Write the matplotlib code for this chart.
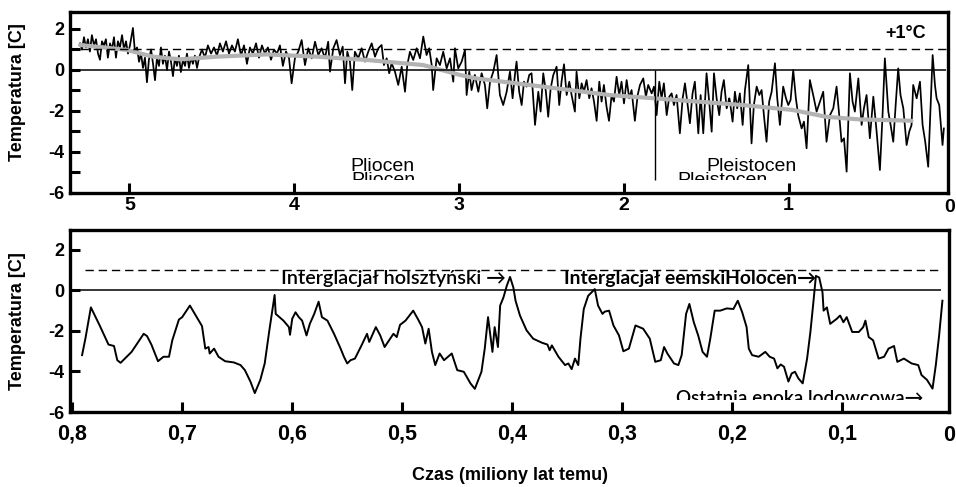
import matplotlib
matplotlib.use('Agg')
import matplotlib.pyplot as plt
import matplotlib.transforms as mtransforms

plt.rcParams['font.family'] = ['Liberation Sans', 'DejaVu Sans']
plt.rcParams['axes.unicode_minus'] = False

# upper panel: last 5.3 million years (age in Ma, temperature vs today in C)
top_age = [
    5.300, 5.288, 5.276, 5.264, 5.252, 5.240, 5.228, 5.215, 5.203, 5.191, 5.179, 5.167, 5.155, 5.143, 5.131,
    5.118, 5.106, 5.094, 5.082, 5.070, 5.058, 5.045, 5.033, 5.021, 5.009, 4.997, 4.979, 4.967, 4.954,
    4.942, 4.930, 4.918, 4.906, 4.894, 4.882, 4.869, 4.857, 4.845, 4.833, 4.821, 4.809, 4.797, 4.785, 4.772,
    4.760, 4.748, 4.736, 4.724, 4.712, 4.700, 4.688, 4.675, 4.663, 4.651, 4.639, 4.627, 4.615, 4.603, 4.590, 4.578,
    4.560, 4.542, 4.524, 4.505, 4.487, 4.469, 4.451, 4.433, 4.414, 4.396, 4.378, 4.360, 4.342, 4.323, 4.305,
    4.287, 4.269, 4.251, 4.232, 4.214, 4.196, 4.178, 4.160, 4.141, 4.123, 4.105, 4.087, 4.069, 4.050, 4.032,
    4.016, 3.996, 3.976, 3.955, 3.935, 3.915, 3.894, 3.874, 3.854, 3.834, 3.814, 3.794, 3.783, 3.763, 3.743,
    3.723, 3.706, 3.692, 3.678, 3.662, 3.648, 3.632, 3.612, 3.591, 3.571, 3.551, 3.530, 3.510, 3.490, 3.470,
    3.456, 3.439, 3.424, 3.409, 3.389, 3.369, 3.348, 3.328, 3.314, 3.298, 3.278, 3.257, 3.237, 3.217, 3.197,
    3.181, 3.166, 3.157, 3.136, 3.116, 3.096, 3.075, 3.055, 3.035, 3.025, 3.005, 2.984, 2.964, 2.954, 2.938,
    2.924, 2.904, 2.883, 2.863, 2.843, 2.829, 2.812, 2.792, 2.772, 2.752, 2.732, 2.711,
    2.691, 2.675, 2.661, 2.651, 2.635, 2.620, 2.606, 2.590, 2.574, 2.560, 2.539, 2.519, 2.505, 2.489, 2.473,
    2.459, 2.444, 2.428, 2.408, 2.392, 2.378, 2.363, 2.347, 2.331, 2.317, 2.297, 2.287, 2.270, 2.256, 2.242,
    2.226, 2.210, 2.196, 2.181, 2.165, 2.149, 2.135, 2.121, 2.105, 2.090, 2.074, 2.060, 2.044, 2.028, 2.014,
    1.999, 1.983, 1.967, 1.953, 1.933, 1.916, 1.902, 1.882, 1.866, 1.852, 1.831, 1.817, 1.801, 1.785, 1.771,
    1.757, 1.740, 1.724, 1.710, 1.696, 1.680, 1.660, 1.643, 1.629, 1.615, 1.599, 1.583, 1.569, 1.548, 1.534,
    1.518, 1.498, 1.482, 1.467, 1.453, 1.437, 1.421, 1.407, 1.393, 1.376, 1.360,
    1.356, 1.340, 1.326, 1.312, 1.296, 1.279, 1.265, 1.245, 1.225, 1.211, 1.194, 1.178, 1.164, 1.150, 1.134,
    1.118, 1.103, 1.083, 1.069, 1.053, 1.033, 1.016, 1.002, 0.988, 0.972, 0.956, 0.942, 0.921, 0.907, 0.891,
    0.871, 0.851, 0.830, 0.810, 0.790, 0.770, 0.749, 0.729, 0.709, 0.693, 0.679, 0.664, 0.648, 0.628, 0.612,
    0.598, 0.577, 0.557, 0.543, 0.527, 0.507, 0.486, 0.466, 0.446, 0.430, 0.416, 0.395, 0.381, 0.365, 0.349,
    0.335, 0.321, 0.304, 0.284, 0.268, 0.254, 0.244, 0.223, 0.203, 0.187, 0.171, 0.153, 0.139, 0.126, 0.112,
    0.102, 0.086, 0.076, 0.066, 0.058,
]
top_temp = [
    1.3, 1.0, 1.6, 1.1, 1.5, 0.9, 1.7, 1.2, 1.5, 0.8, 0.5, 1.4, 1.2, 1.5, 0.6,
    1.3, 1.0, 1.6, 0.6, 1.4, 1.1, 1.7, 1.0, 1.4, 0.8, 1.2, 2.05, 0.9, 1.1,
    0.4, 0.8, 0.1, 0.6, -0.6, 0.5, 1.0, 0.3, -0.5, 0.6, 0.2, 1.1, 0.3, 0.7, 0.0,
    0.9, 0.4, -0.3, 0.6, 0.2, 0.7, -0.1, 0.5, 0.2, 0.8, 0.1, 0.6, 0.3, 0.7, 0.1, 0.6,
    1.0, 0.6, 1.2, 0.8, 1.1, 0.7, 1.3, 0.9, 1.4, 0.8, 1.2, 0.9, 1.5, 0.7, 1.2,
    0.3, 1.1, 0.8, 1.3, 0.6, 1.2, 0.8, 1.1, 0.5, 1.0, 0.8, 1.2, 0.2, 0.9, 0.6,
    -0.65, 0.57, 0.89, 1.46, 0.24, 1.06, 0.57, 1.38, 0.73, 1.06, 0.57, 1.38, -0.08, 1.06, 1.46,
    0.73, 1.14, -0.65, 0.89, 0.41, -0.98, 0.89, 0.57, 1.06, 0.41, 0.89, 1.30, 0.65, 1.06, 1.22,
    0.24, 0.57, -0.16, 0.33, -0.08, -0.73, 0.16, -1.06, 0.24, 0.89, 0.49, 1.06, 0.57, 1.63, 0.73,
    1.06, 0.24, -0.98, 0.57, 0.24, 0.89, 0.08, 0.57, -0.57, 1.06, 0.08, 0.41, 0.98, -1.22, -0.08,
    -0.98, -0.24, -1.06, -0.16, -0.73, -1.87, -0.57, -0.08, 0.73, -1.22, -1.71, -1.06,
    -0.08, -1.38, -0.24, 0.41, -1.06, -1.71, -0.57, -0.81, -0.24, -0.16, -2.68, -1.06, -2.03, -0.16, -1.06,
    -2.28, -0.89, -0.24, 0.16, -1.71, -0.57, 0.28, -1.22, -0.57, -1.22, -2.03, -0.08, -1.38, -0.65, -1.06,
    -0.49, -1.38, -0.89, -1.54, -2.48, -0.57, -1.54, -0.73, -1.79, -2.48, -1.22, -1.54, -0.33, -1.22, -0.57,
    -1.63, -0.49, -1.38, -0.98, -2.48, -1.22, -0.73, -0.41, -1.30, -0.73, -1.14, -0.81, -2.20, -0.57, -1.38,
    -0.65, -2.20, -1.30, -1.14, -1.71, -1.22, -3.09, -1.38, -0.65, -1.54, -2.60, -1.14, -0.57, -3.09, -1.22,
    -3.09, -0.16, -1.54, -3.01, -0.16, -1.38, -2.20, -1.06, -0.49, -1.87, -1.38,
    -1.54, -2.52, -1.06, -1.87, -1.14, -2.68, -0.98, 0.24, -3.58, -1.71, -0.81, -1.22, -0.98, -2.20, -3.50,
    -1.54, -1.06, 0.33, -1.38, -2.68, -0.81, -1.38, -1.71, -1.46, 0.00, -1.38, -2.20, -2.85, -2.52, -3.82,
    -0.49, -1.22, -2.03, -1.54, -1.06, -3.50, -2.20, -1.87, -0.81, -2.20, -3.50, -3.33, -4.96, -0.16, -1.54,
    -2.03, -0.41, -2.68, -1.87, -1.22, -3.33, -1.30, -3.01, -4.88, -2.20, 0.57, -2.03, -2.68, -3.50, -1.54,
    0.08, -1.22, -1.87, -3.66, -3.01, -2.68, -0.73, -1.38, -0.57, -2.68, -3.50, -4.72, -1.87, 0.73, -0.73,
    -1.38, -1.71, -2.68, -3.66, -2.85,
]

# grey smoothed trend of the upper record
trend_age = [5.300, 5.017, 4.857, 4.693, 4.471, 4.167, 3.864, 3.561, 3.217, 2.995, 2.897,
             2.493, 2.089, 1.684, 1.279, 0.976, 0.774, 0.572, 0.268, 0.254]
trend_temp = [1.22, 0.98, 0.65, 0.52, 0.65, 0.76, 0.65, 0.49, 0.24, -0.24, -0.41,
              -0.81, -1.22, -1.46, -1.71, -1.95, -2.28, -2.41, -2.47, -2.48]

# lower panel: last 800 thousand years
bottom_record = [
    (0.791, -3.20), (0.788, -2.39), (0.783, -0.85), (0.775, -1.74), (0.767, -2.68), (0.762, -2.75),
    (0.759, -3.45), (0.756, -3.58), (0.746, -3.04), (0.735, -2.15), (0.732, -2.26), (0.728, -2.68),
    (0.722, -3.50), (0.717, -3.28), (0.712, -3.28), (0.709, -2.47), (0.703, -1.45), (0.700, -1.33),
    (0.693, -0.76), (0.685, -1.50), (0.682, -1.77), (0.679, -2.88), (0.676, -2.80), (0.675, -3.12),
    (0.671, -2.88), (0.667, -3.28), (0.661, -3.50), (0.653, -3.56), (0.647, -3.69), (0.643, -3.94),
    (0.638, -4.50), (0.634, -5.07), (0.629, -4.42), (0.625, -3.61), (0.621, -2.06), (0.616, -0.24),
    (0.615, -1.17), (0.608, -1.50), (0.603, -1.82), (0.602, -2.20), (0.600, -1.41), (0.597, -1.09),
    (0.594, -1.33), (0.591, -1.50), (0.587, -2.23), (0.584, -1.66), (0.580, -1.17), (0.576, -0.57),
    (0.573, -1.33), (0.568, -1.50), (0.562, -2.15), (0.556, -2.88), (0.553, -3.28), (0.550, -3.61),
    (0.547, -3.45), (0.543, -3.37), (0.537, -2.72), (0.532, -2.15), (0.530, -2.55), (0.524, -1.82),
    (0.520, -2.23), (0.516, -2.80), (0.511, -2.39), (0.508, -2.15), (0.505, -2.31), (0.502, -1.71),
    (0.497, -1.50), (0.490, -1.01), (0.485, -1.50), (0.482, -1.82), (0.479, -2.63), (0.476, -1.90),
    (0.473, -3.04), (0.470, -3.69), (0.466, -3.12), (0.462, -3.45), (0.455, -3.12), (0.450, -3.94),
    (0.444, -4.02), (0.438, -4.59), (0.434, -4.86), (0.428, -4.02), (0.425, -2.88), (0.422, -1.33),
    (0.418, -3.04), (0.416, -1.82), (0.413, -2.80), (0.411, -0.76), (0.408, -0.36), (0.405, 0.21),
    (0.402, 0.65), (0.399, 0.13), (0.397, -0.52), (0.393, -1.25), (0.387, -1.98), (0.381, -2.39),
    (0.373, -2.59), (0.368, -2.68), (0.366, -2.96), (0.364, -2.72), (0.358, -3.28), (0.352, -3.69),
    (0.349, -3.61), (0.346, -3.89), (0.343, -3.37), (0.340, -3.69), (0.338, -2.39), (0.335, -0.93),
    (0.331, -0.28), (0.325, 0.05), (0.322, -0.76), (0.318, -1.17), (0.316, -1.06), (0.312, -1.01),
    (0.308, -1.74), (0.303, -2.23), (0.299, -3.01), (0.294, -2.88), (0.288, -1.74), (0.281, -1.90),
    (0.275, -2.39), (0.270, -3.53), (0.265, -3.45), (0.262, -2.80), (0.259, -3.12), (0.253, -3.61),
    (0.249, -3.69), (0.246, -3.20), (0.242, -1.17), (0.239, -0.68), (0.235, -1.58), (0.231, -2.23),
    (0.227, -3.04), (0.223, -3.28), (0.220, -2.39), (0.216, -1.01), (0.211, -1.01), (0.205, -0.90),
    (0.199, -0.93), (0.195, -0.52), (0.191, -1.09), (0.187, -1.82), (0.185, -2.88), (0.182, -3.20),
    (0.176, -3.28), (0.170, -3.04), (0.166, -3.28), (0.162, -3.37), (0.159, -3.85), (0.156, -3.66),
    (0.153, -3.77), (0.149, -4.50), (0.146, -4.10), (0.143, -4.02), (0.140, -4.34), (0.136, -4.59),
    (0.132, -3.37), (0.129, -2.06), (0.126, -0.44), (0.124, 0.70), (0.121, 0.62), (0.118, -0.11),
    (0.117, -1.01), (0.114, -0.85), (0.111, -1.66), (0.105, -1.41), (0.102, -1.25), (0.099, -1.58),
    (0.096, -1.33), (0.091, -2.06), (0.085, -2.06), (0.081, -1.82), (0.079, -1.50), (0.076, -2.31),
    (0.072, -2.47), (0.067, -3.37), (0.062, -3.28), (0.058, -2.88), (0.053, -2.75), (0.050, -3.53),
    (0.044, -3.37), (0.037, -3.61), (0.031, -3.69), (0.028, -4.18), (0.023, -4.42), (0.018, -4.85),
    (0.015, -3.69), (0.012, -2.23), (0.009, -0.52),
]
bot_age = [a for a, t in bottom_record]
bot_temp = [t for a, t in bottom_record]

top_xticks = [5, 4, 3, 2, 1]
bot_xticks = [0.8, 0.7, 0.6, 0.5, 0.4, 0.3, 0.2, 0.1]
bot_xlabels = ['0,8', '0,7', '0,6', '0,5', '0,4', '0,3', '0,2', '0,1']
ylabels = ['-6', '-4', '-2', '0', '2']
boundary_age = 1.811   # Pliocen / Pleistocen

fig = plt.figure(figsize=(9.56, 4.87), dpi=100)
ax1 = fig.add_axes([0.0732, 0.6037, 0.9184, 0.3717])
ax2 = fig.add_axes([0.0732, 0.154, 0.9195, 0.3737])


def style_axes(ax, xsize, xpad):
    for sp in ax.spines.values():
        sp.set_linewidth(2.4)
    ax.tick_params(which='both', direction='in', length=7, width=2.2,
                   top=False, right=False)
    ax.tick_params(axis='x', labelsize=xsize, pad=xpad)
    ax.tick_params(axis='y', labelsize=13, pad=4)
    ax.set_yticks([-6, -4, -2, 0, 2])
    ax.set_yticklabels(ylabels, fontweight='bold')
    ax.set_ylabel('Temperatura [C]', fontsize=13, fontweight='bold')


# ---- upper panel
ax1.plot(top_age, top_temp, color='black', lw=1.25)
ax1.plot(trend_age, trend_temp, color='#b3b3b3', lw=3.0, solid_capstyle='round')
ax1.hlines(0, 5.361, 0.045, color='black', lw=1.1)
ax1.hlines(1, 5.30, 0.045, color='black', lw=1.0, linestyles=(0, (6, 3.5)))
ax1.vlines(boundary_age, -5.37, 0, color='black', lw=1.0)
ax1.set_xlim(5.361, 0.033)
ax1.set_ylim(-6, 2.83)
ax1.set_xticks(top_xticks)
ax1.set_xticklabels([str(v) for v in top_xticks], fontweight='bold')
ax1.set_yticks([-5, -3, -1, 1], minor=True)
style_axes(ax1, 14, 3)
ax1.yaxis.set_label_coords(-0.05, 0.555)
# the "0" end label sits right on the frame edge
ax1.text(1.008, -0.033, '0', transform=ax1.transAxes,
         ha='right', va='top', fontsize=14, fontweight='bold', clip_on=False)
ax1.text(0.288, 1.78, '+1°C', ha='center', va='center', fontsize=13, fontweight='bold')

tr1 = mtransforms.blended_transform_factory(ax1.transAxes, ax1.transData)
clip1 = mtransforms.TransformedBbox(mtransforms.Bbox.from_extents(0, -5.37, 1, 3), tr1)
for x, y, s in [(3.662, -4.95, 'Pliocen'), (3.655, -5.6, 'Pliocen'),
                (1.502, -4.95, 'Pleistocen'), (1.678, -5.6, 'Pleistocen')]:
    t = ax1.text(x, y, s, ha='left', va='baseline', fontsize=14, clip_on=True)
    t.set_clip_box(clip1)

# ---- lower panel
ax2.plot(bot_age, bot_temp, color='black', lw=1.4)
ax2.hlines(0, 0.802, 0.010, color='black', lw=1.1)
ax2.hlines(1, 0.788, 0.010, color='black', lw=1.0, linestyles=(0, (6, 3.5)))
ax2.set_xlim(0.802, 0.003)
ax2.set_ylim(-5.85, 2.96)
ax2.set_xticks(bot_xticks)
ax2.set_xticklabels(bot_xlabels, fontweight='bold')
style_axes(ax2, 15.5, 8)
ax2.yaxis.set_label_coords(-0.05, 0.5)
ax2.text(1.007, -0.07, '0', transform=ax2.transAxes,
         ha='right', va='top', fontsize=15.5, fontweight='bold', clip_on=False)

note_font = ['Lato', 'DejaVu Sans']
ax2.text(0.406, 0.3, 'Interglacjał holsztyński →', ha='right', va='baseline',
         fontsize=14.2, fontweight='semibold', family=note_font)
ax2.text(0.353, 0.3, 'Interglacjał eemskiHolocen→', ha='left', va='baseline',
         fontsize=13.9, fontweight='bold', family=note_font)
tr2 = mtransforms.blended_transform_factory(ax2.transAxes, ax2.transData)
clip2 = mtransforms.TransformedBbox(mtransforms.Bbox.from_extents(0, -5.41, 1, 3), tr2)
t = ax2.text(0.251, -5.61, 'Ostatnia epoka lodowcowa→', ha='left', va='baseline',
             fontsize=13.6, fontweight='semibold', family=note_font, clip_on=True)
t.set_clip_box(clip2)

fig.text(0.533, 0.0226, 'Czas (miliony lat temu)', ha='center', va='center',
         fontsize=13, fontweight='bold')

fig.savefig('out.png', dpi=100)
